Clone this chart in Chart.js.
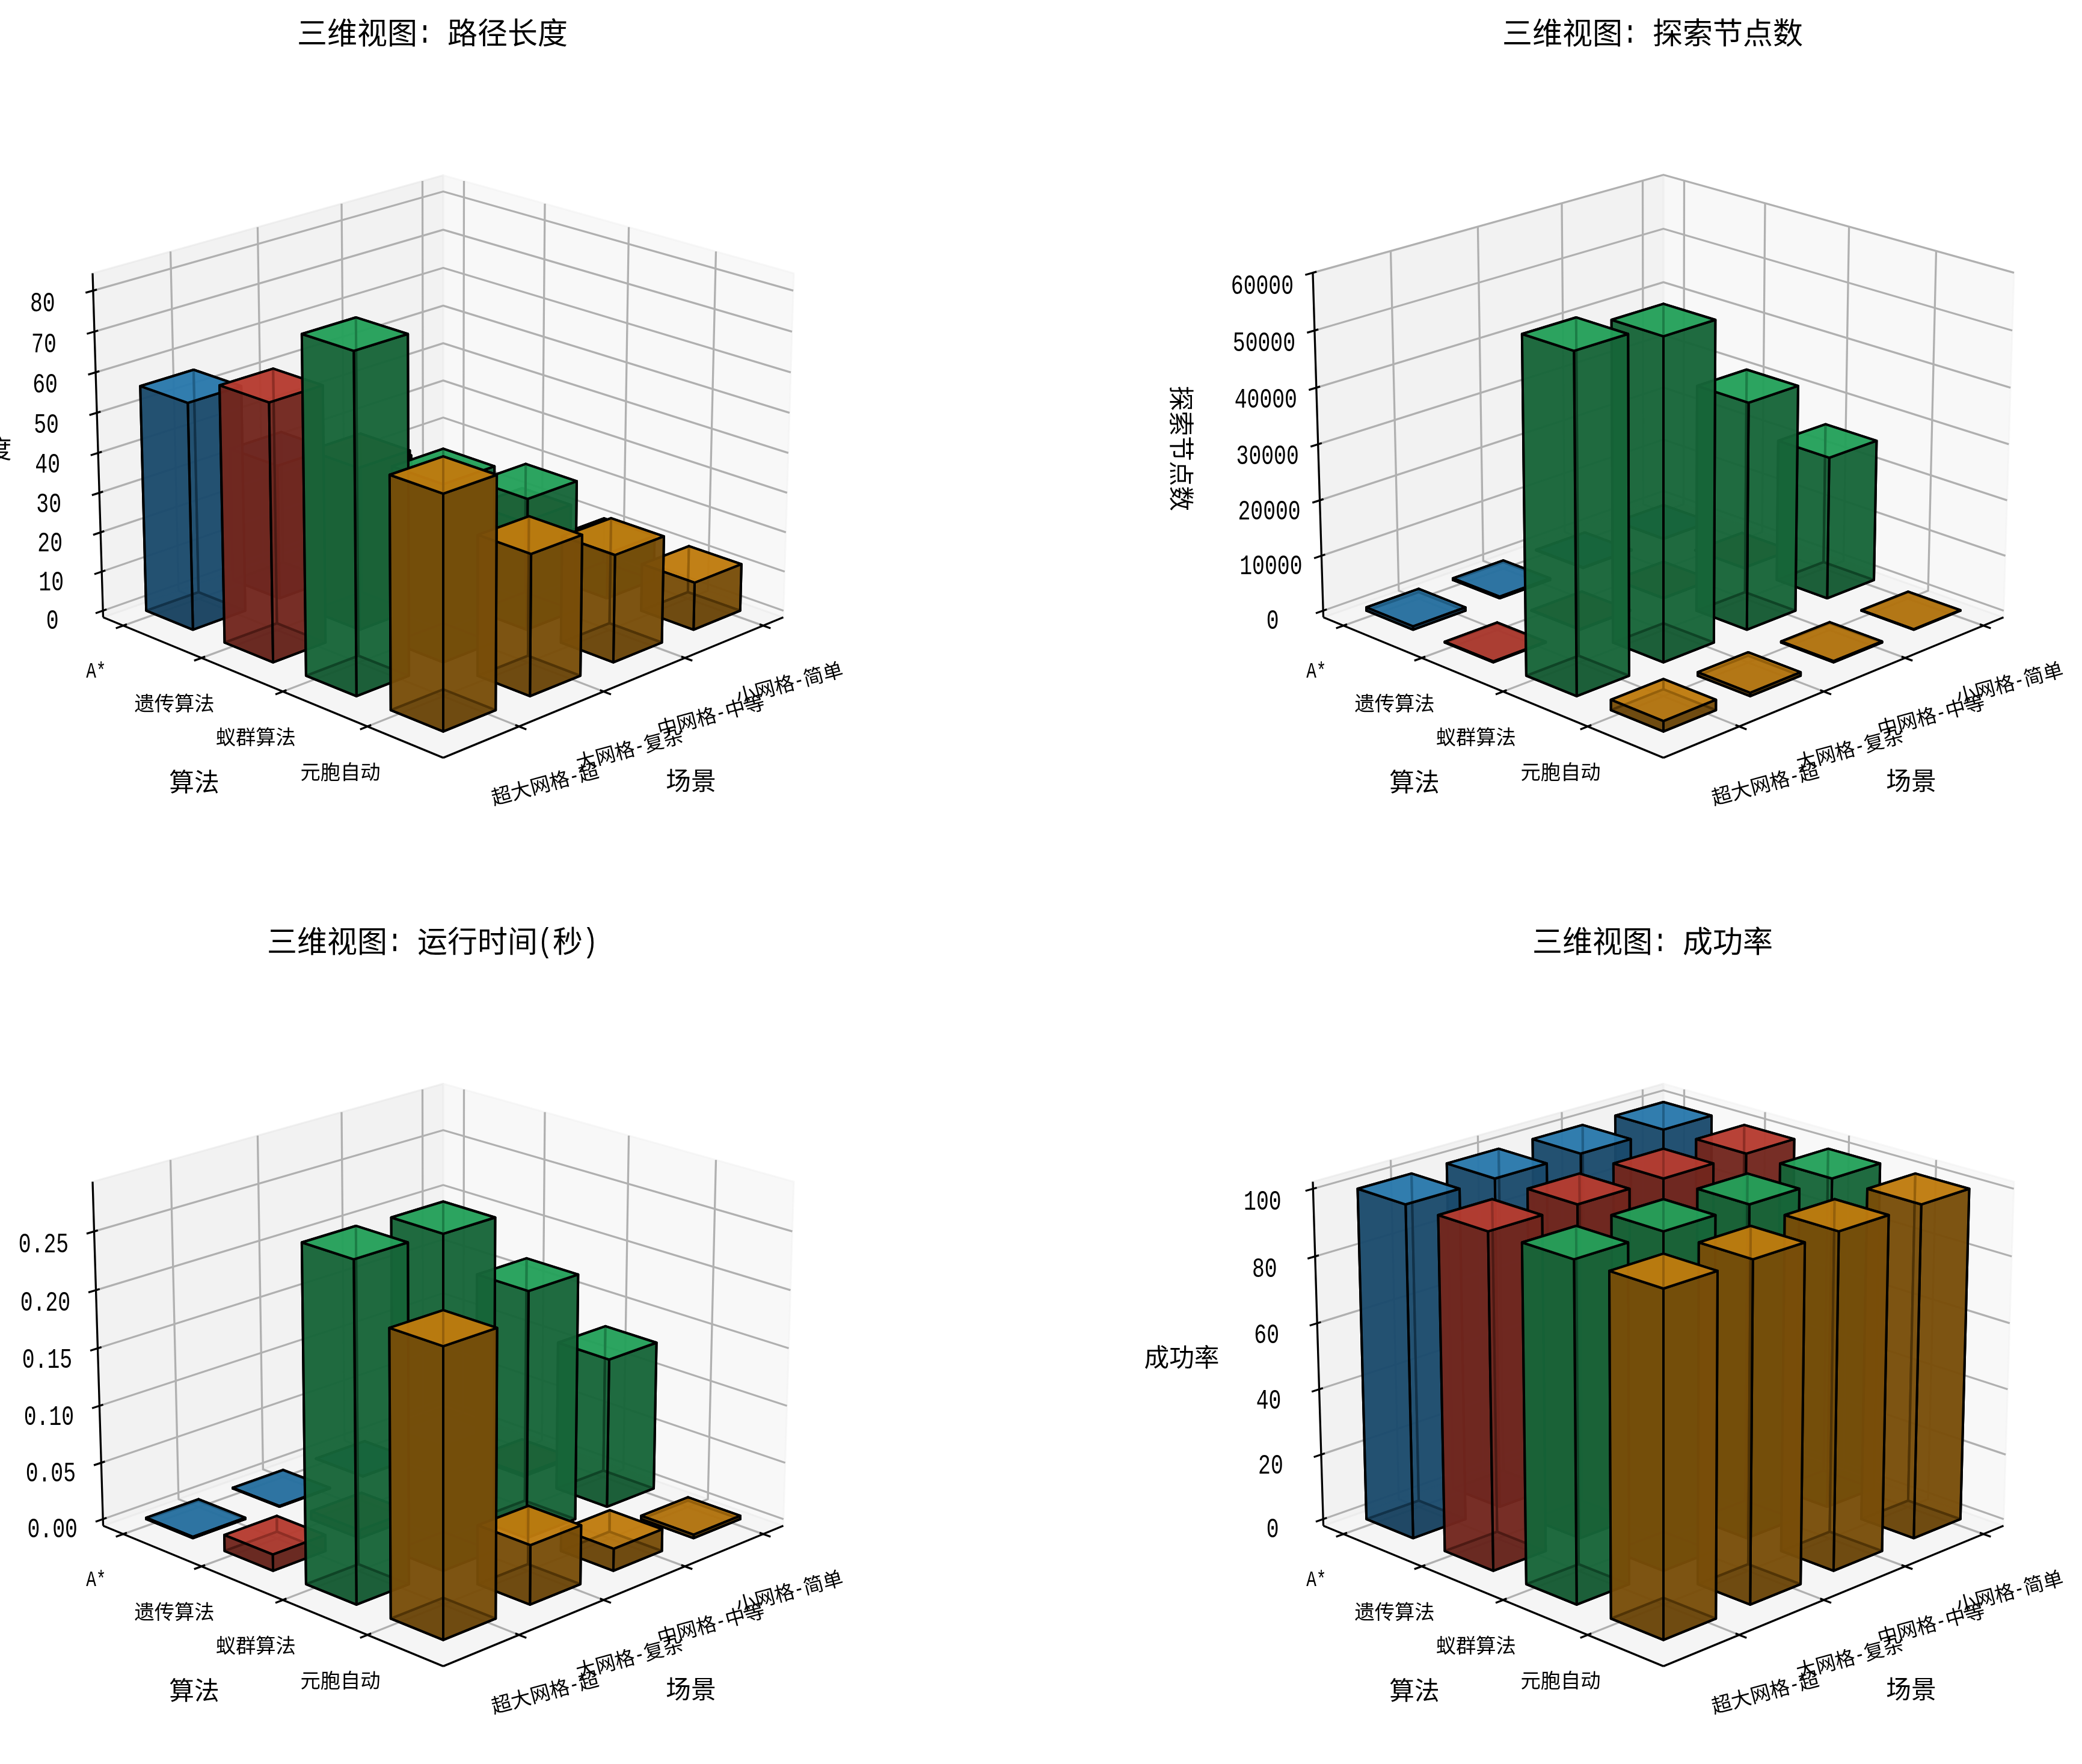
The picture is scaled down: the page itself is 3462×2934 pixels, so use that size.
<!DOCTYPE html>
<html lang="zh">
<head>
    <meta charset="UTF-8">
    <title>三维视图</title>
    <script src="https://cdn.jsdelivr.net/npm/chart.js"></script>
    <style>
        body { margin: 0; background: #fff; }
        canvas { position: absolute; }
    </style>
</head>
<body>
    <canvas id="pathChart" width="1731" height="1467" style="left:0;top:0"></canvas>
    <canvas id="nodeChart" width="1731" height="1467" style="left:1731px;top:0"></canvas>
    <canvas id="timeChart" width="1731" height="1467" style="left:0;top:1467px"></canvas>
    <canvas id="rateChart" width="1731" height="1467" style="left:1731px;top:1467px"></canvas>
    <script>
        const algorithms = ['A*', '遗传算法', '蚁群算法', '元胞自动'];
        const scenes = ['小网格-简单', '中网格-中等', '大网格-复杂', '超大网格-超'];
        const barColors = [[52, 152, 219], [231, 76, 60], [46, 204, 113], [243, 156, 18]];

        // one row per algorithm, one column per scene
        const pathLength = [
            [11.3, 25, 33.9, 56.6],
            [12, 26, 40.6, 63.6],
            [11.5, 32.9, 43.9, 82.5],
            [11.9, 26.6, 34.6, 56.4]
        ];
        const nodeCount = [
            [30, 120, 300, 600],
            [40, 60, 100, 150],
            [25550, 40300, 56450, 58700],
            [80, 200, 600, 1800]
        ];
        const runTime = [
            [0.0002, 0.0003, 0.0006, 0.0012],
            [0.002, 0.004, 0.007, 0.014],
            [0.1303, 0.2134, 0.284, 0.286],
            [0.003, 0.019, 0.0505, 0.2403]
        ];
        const successRate = [
            [100, 100, 100, 100],
            [100, 100, 100, 100],
            [100, 100, 100, 100],
            [100, 100, 100, 100]
        ];
        const pathTicks = ['0', '10', '20', '30', '40', '50', '60', '70', '80'];
        const nodeTicks = ['0', '10000', '20000', '30000', '40000', '50000', '60000'];
        const timeTicks = ['0.00', '0.05', '0.10', '0.15', '0.20', '0.25'];
        const rateTicks = ['0', '20', '40', '60', '80', '100'];

        // view settings of the 3d box
        const ELEV = 20 * Math.PI / 180;
        const BOX_XY = 1.1905, BOX_Z = 0.8929, DIST = 10, ROOT = Math.SQRT1_2;
        const AXIS_LO = -0.2625, AXIS_HI = 3.8625;
        const BAR_START = 0, BAR_SIZE = 0.6;
        const PX_PER_UNIT = 6820;
        const LIGHT = { px: 0.4167, py: 0.4167, mx: 0.8833, my: 0.8833, top: 0.7667, bottom: 0.5333 };
        const W = 1731, H = 1467;
        const CJK = '"Noto Sans CJK SC", "Noto Sans CJK JP", sans-serif';

        function makeProjection(zMax) {
            const zLo = -zMax / 48, zHi = zMax * 49 / 48;
            return function (x, y, z) {
                const px = (x - AXIS_LO) / (AXIS_HI - AXIS_LO) * BOX_XY - BOX_XY / 2;
                const py = (y - AXIS_LO) / (AXIS_HI - AXIS_LO) * BOX_XY - BOX_XY / 2;
                const pz = (z - zLo) / (zHi - zLo) * BOX_Z - BOX_Z / 2;
                const depth = Math.cos(ELEV) * ROOT * (px + py) + Math.sin(ELEV) * pz;
                const up = -Math.sin(ELEV) * ROOT * (px + py) + Math.cos(ELEV) * pz;
                return { x: ROOT * (py - px) / (DIST - depth), y: up / (DIST - depth), depth: depth };
            };
        }

        function lineSet(points, color, width) {
            return {
                data: points, showLine: true, borderColor: color, borderWidth: width,
                pointRadius: 0, fill: false, borderJoinStyle: 'round', borderCapStyle: 'butt'
            };
        }

        function faceSet(points, color, width, edge) {
            const set = lineSet(points, edge, width);
            set.fill = 'shape';
            set.backgroundColor = color;
            return set;
        }

        function shaded(rgb, light) {
            return `rgba(${rgb[0] * light}, ${rgb[1] * light}, ${rgb[2] * light}, 0.8)`;
        }

        function barFaces(P, x0, y0, h, rgb) {
            const x1 = x0 + BAR_SIZE, y1 = y0 + BAR_SIZE;
            const faces = [
                [[x0, y0, 0], [x1, y0, 0], [x1, y1, 0], [x0, y1, 0], LIGHT.bottom],
                [[x0, y0, h], [x1, y0, h], [x1, y1, h], [x0, y1, h], LIGHT.top],
                [[x0, y0, 0], [x1, y0, 0], [x1, y0, h], [x0, y0, h], LIGHT.my],
                [[x0, y1, 0], [x1, y1, 0], [x1, y1, h], [x0, y1, h], LIGHT.py],
                [[x0, y0, 0], [x0, y1, 0], [x0, y1, h], [x0, y0, h], LIGHT.mx],
                [[x1, y0, 0], [x1, y1, 0], [x1, y1, h], [x1, y0, h], LIGHT.px]
            ];
            return faces.map(face => {
                const pts = face.slice(0, 4).map(c => P(c[0], c[1], c[2]));
                const depth = pts.reduce((sum, p) => sum + p.depth, 0) / 4;
                pts.push(pts[0]);
                return { depth: depth, set: faceSet(pts, shaded(rgb, face[4]), 4, '#000') };
            }).sort((a, b) => a.depth - b.depth).map(f => f.set);
        }

        function buildDatasets(values, zTicks) {
            const zMax = Math.max(...values.flat());
            const P = makeProjection(zMax);
            const lo = AXIS_LO, hi = AXIS_HI, zLo = -zMax / 48, zHi = zMax * 49 / 48;
            const span = hi - lo, grid = '#b0b0b0', sets = [];

            sets.push(faceSet([P(hi, lo, zLo), P(lo, lo, zLo), P(lo, lo, zHi), P(hi, lo, zHi), P(hi, lo, zLo)], 'rgba(230,230,230,0.5)', 3, 'rgba(230,230,230,0.5)'));
            sets.push(faceSet([P(lo, lo, zLo), P(lo, hi, zLo), P(lo, hi, zHi), P(lo, lo, zHi), P(lo, lo, zLo)], 'rgba(242,242,242,0.5)', 3, 'rgba(242,242,242,0.5)'));
            sets.push(faceSet([P(lo, lo, zLo), P(hi, lo, zLo), P(hi, hi, zLo), P(lo, hi, zLo), P(lo, lo, zLo)], 'rgba(236,236,236,0.5)', 3, 'rgba(236,236,236,0.5)'));

            for (let i = 0; i < scenes.length; i++) {
                sets.push(lineSet([P(i, hi, zLo), P(i, lo, zLo), P(i, lo, zHi)], grid, 3.3));
            }
            for (let i = 0; i < algorithms.length; i++) {
                sets.push(lineSet([P(hi, i, zLo), P(lo, i, zLo), P(lo, i, zHi)], grid, 3.3));
            }
            zTicks.forEach(t => {
                const z = Number(t);
                sets.push(lineSet([P(hi, lo, z), P(lo, lo, z), P(lo, hi, z)], grid, 3.3));
            });

            sets.push(lineSet([P(hi, lo, zLo), P(hi, lo, zHi)], '#000', 3.3));
            sets.push(lineSet([P(hi, lo, zLo), P(hi, hi, zLo)], '#000', 3.3));
            sets.push(lineSet([P(hi, hi, zLo), P(lo, hi, zLo)], '#000', 3.3));
            zTicks.forEach(t => {
                const z = Number(t);
                sets.push(lineSet([P(hi + 0.02 * span, lo, z), P(hi - 0.01 * span, lo, z)], '#000', 3.3));
            });
            for (let i = 0; i < algorithms.length; i++) {
                sets.push(lineSet([P(hi + 0.02 * span, i, zLo), P(hi - 0.01 * span, i, zLo)], '#000', 3.3));
            }
            for (let i = 0; i < scenes.length; i++) {
                sets.push(lineSet([P(i, hi + 0.02 * span, zLo), P(i, hi - 0.01 * span, zLo)], '#000', 3.3));
            }

            const bars = [];
            values.forEach((row, a) => row.forEach((v, s) => bars.push({ a: a, s: s, v: v })));
            bars.sort((m, n) => (m.a + m.s) - (n.a + n.s));
            bars.forEach(b => {
                sets.push(...barFaces(P, b.s + BAR_START, b.a + BAR_START, b.v, barColors[b.a]));
            });
            // chart.js paints the first dataset last
            return { sets: sets.reverse(), P: P, zLo: zLo, zMax: zMax };
        }

        // full width CJK with half width latin, like the original font
        function drawText(ctx, text, x, y, size, angle) {
            const chars = Array.from(text);
            const widths = chars.map(c => c.charCodeAt(0) < 128 ? size / 2 : size);
            const total = widths.reduce((a, b) => a + b, 0);
            ctx.save();
            ctx.translate(x, y);
            ctx.rotate(angle || 0);
            ctx.textAlign = 'center';
            ctx.textBaseline = 'middle';
            ctx.fillStyle = '#000';
            let left = -total / 2;
            chars.forEach((c, i) => {
                const mid = left + widths[i] / 2;
                if (c.charCodeAt(0) < 128) {
                    ctx.save();
                    ctx.translate(mid, size * 0.05);
                    ctx.scale(0.758, 1);
                    ctx.font = `${size * 1.1}px "Liberation Mono", monospace`;
                    ctx.fillText(c, 0, 0);
                    ctx.restore();
                } else {
                    ctx.font = `${size}px ${CJK}`;
                    ctx.fillText(c, mid, 0);
                }
                left += widths[i];
            });
            ctx.restore();
        }

        function drawPanel(canvasId, cx, cy, title, zLabel, values, zTicks) {
            const built = buildDatasets(values, zTicks);
            const P = built.P, zLo = built.zLo, zMax = built.zMax;
            const labelsPlugin = {
                id: 'labels3d',
                afterDraw(chart) {
                    const ctx = chart.ctx, sx = chart.scales.x, sy = chart.scales.y;
                    const px = p => ({ x: sx.getPixelForValue(p.x), y: sy.getPixelForValue(p.y) });
                    const o = { x: sx.getPixelForValue(0), y: sy.getPixelForValue(0) };
                    drawText(ctx, title, o.x - 18, o.y - 691, 50);
                    drawText(ctx, '算法', o.x - 414, o.y + 555, 41.67);
                    drawText(ctx, '场景', o.x + 412, o.y + 553, 41.67);
                    drawText(ctx, zLabel, o.x - 801, o.y + 1, 41.67, zLabel.length > 4 ? Math.PI / 2 : 0);
                    algorithms.forEach((name, i) => {
                        const t = px(P(AXIS_HI, i, zLo));
                        drawText(ctx, name, t.x - 45, t.y + 75, 33.3);
                    });
                    scenes.forEach((name, i) => {
                        const t = px(P(i, AXIS_HI, zLo));
                        drawText(ctx, name, t.x + 43, t.y + 95, 33.3, -15 * Math.PI / 180);
                    });
                    zTicks.forEach(label => {
                        const t = px(P(AXIS_HI, AXIS_LO, Number(label)));
                        drawText(ctx, label, t.x - 84, t.y + 16 + 5 * Number(label) / zMax, 41.67);
                    });
                }
            };
            new Chart(document.getElementById(canvasId), {
                type: 'scatter',
                data: { datasets: built.sets },
                plugins: [labelsPlugin],
                options: {
                    responsive: false,
                    animation: false,
                    devicePixelRatio: 1,
                    layout: { padding: 0 },
                    plugins: { legend: { display: false }, tooltip: { enabled: false } },
                    scales: {
                        x: { display: false, min: -cx / PX_PER_UNIT, max: (W - cx) / PX_PER_UNIT },
                        y: { display: false, min: -(H - cy) / PX_PER_UNIT, max: cy / PX_PER_UNIT }
                    }
                }
            });
        }

        drawPanel('pathChart', 737, 745, '三维视图: 路径长度', '路径长度', pathLength, pathTicks);
        drawPanel('nodeChart', 1035, 745, '三维视图: 探索节点数', '探索节点数', nodeCount, nodeTicks);
        drawPanel('timeChart', 737, 789, '三维视图: 运行时间(秒)', '运行时间(秒)', runTime, timeTicks);
        drawPanel('rateChart', 1035, 789, '三维视图: 成功率', '成功率', successRate, rateTicks);
    </script>
</body>
</html>
